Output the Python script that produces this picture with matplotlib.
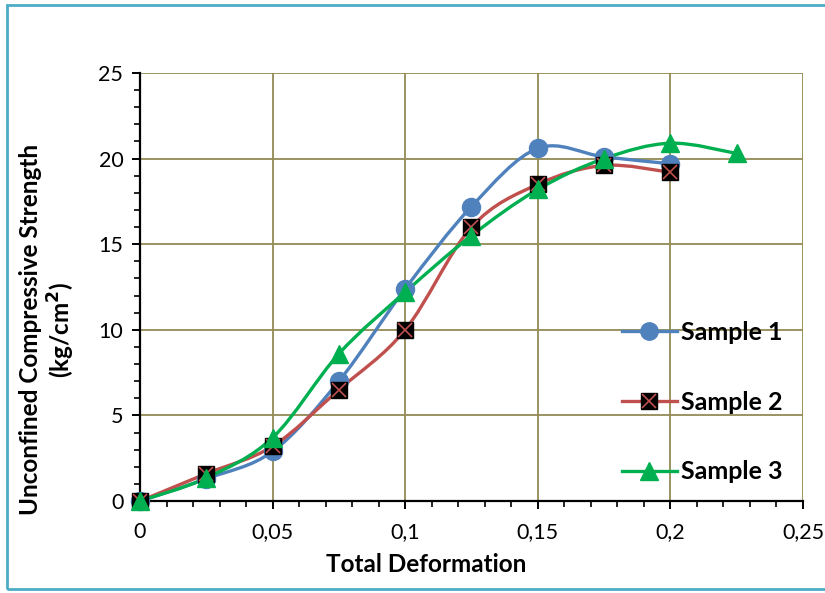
import numpy as np
import matplotlib
matplotlib.use("Agg")
import matplotlib.pyplot as plt
from matplotlib.path import Path
from matplotlib.patches import PathPatch, Rectangle
from matplotlib.lines import Line2D
from matplotlib.ticker import MultipleLocator, FixedLocator, FixedFormatter

plt.rcParams['font.family'] = ['Lato', 'DejaVu Sans']

# data
deform = [0, 0.025, 0.05, 0.075, 0.1, 0.125, 0.15, 0.175, 0.2]
deform3 = [0, 0.025, 0.05, 0.075, 0.1, 0.125, 0.15, 0.175, 0.2, 0.225]
sample1 = [0, 1.3, 2.9, 7.0, 12.4, 17.2, 20.6, 20.1, 19.7]
sample2 = [0, 1.6, 3.2, 6.5, 10.0, 16.0, 18.5, 19.6, 19.2]
sample3 = [0, 1.35, 3.7, 8.6, 12.2, 15.5, 18.2, 20.0, 20.9, 20.3]

xticks = [0, 0.05, 0.1, 0.15, 0.2, 0.25]
xticklabels = ['0', '0,05', '0,1', '0,15', '0,2', '0,25']
yticks = [0, 5, 10, 15, 20, 25]

blue = '#4F81BD'
red = '#C0504D'
green = '#00B050'
grid_col = '#948A54'


def smooth_path(xs, ys):
    # Excel style smoothed line: cubic Bezier through the points
    pts = np.column_stack([xs, ys]).astype(float)
    n = len(pts)
    verts = [pts[0]]
    codes = [Path.MOVETO]
    for i in range(n - 1):
        p0 = pts[i - 1] if i > 0 else pts[i]
        p1 = pts[i]
        p2 = pts[i + 1]
        p3 = pts[i + 2] if i + 2 < n else pts[i + 1]
        c1 = p1 + (p2 - p0) / 6.0
        c2 = p2 - (p3 - p1) / 6.0
        verts += [c1, c2, p2]
        codes += [Path.CURVE4] * 3
    return Path(verts, codes)


fig = plt.figure(figsize=(8.25, 5.93), dpi=100)
ax = fig.add_axes([0.1697, 0.1551, 0.8036, 0.7218])

# chart border (right side runs off the picture)
fig.patches.append(Rectangle((0.009, 0.006), 1.05, 0.985, transform=fig.transFigure,
                             fill=False, edgecolor='#4BACC6', linewidth=2.0))

lw = 2.4
ax.add_patch(PathPatch(smooth_path(deform, sample1), fill=False, edgecolor=blue, lw=lw,
                       zorder=3, clip_on=False))
ax.add_patch(PathPatch(smooth_path(deform, sample2), fill=False, edgecolor=red, lw=lw,
                       zorder=3, clip_on=False))
ax.add_patch(PathPatch(smooth_path(deform3, sample3), fill=False, edgecolor=green, lw=lw,
                       zorder=3, clip_on=False))

ax.plot(deform, sample1, 'o', color=blue, ms=13, zorder=4, clip_on=False)
ax.plot(deform, sample2, 's', color='black', mec='black', ms=11, zorder=5, clip_on=False)
ax.plot(deform, sample2, 'x', color=red, ms=10, mew=1.2, zorder=6, clip_on=False)
ax.plot(deform3, sample3, '^', color=green, ms=13, zorder=7, clip_on=False)

ax.set_xlim(0, 0.25)
ax.set_ylim(0, 25)
ax.xaxis.set_major_locator(FixedLocator(xticks))
ax.xaxis.set_major_formatter(FixedFormatter(xticklabels))
ax.xaxis.set_minor_locator(MultipleLocator(0.01))
ax.yaxis.set_major_locator(FixedLocator(yticks))
ax.yaxis.set_minor_locator(MultipleLocator(1))

ax.grid(True, which='major', color=grid_col, lw=1.3)
ax.set_axisbelow(True)
for s in ['top', 'right']:
    ax.spines[s].set_visible(False)
for s in ['left', 'bottom']:
    ax.spines[s].set_linewidth(1.6)
    ax.spines[s].set_zorder(2.5)
ax.tick_params(which='major', length=6, width=1.4, labelsize=15.5)
ax.tick_params(which='minor', length=4, width=1.2)
ax.tick_params(axis='x', which='major', pad=9)
ax.tick_params(axis='y', which='major', pad=6)

ax.set_xlabel('Total Deformation', fontsize=17.5, fontweight='bold')
ax.xaxis.set_label_coords(0.431, -0.122)
ax.set_ylabel('Unconfined Compressive Strength\n(kg/cm$^\\mathbf{2}$)', fontsize=17.5,
              fontweight='bold', linespacing=1.15)
ax.yaxis.set_label_coords(-0.095, 0.40)

handles = [
    Line2D([], [], color=blue, lw=lw, marker='o', ms=12.5),
    (Line2D([], [], color=red, lw=lw, marker='s', mfc='black', mec='black', ms=11),
     Line2D([], [], ls='none', marker='x', color=red, ms=10, mew=1.2)),
    Line2D([], [], color=green, lw=lw, marker='^', ms=13),
]
leg = ax.legend(handles, ['Sample 1', 'Sample 2', 'Sample 3'], loc='upper left',
                bbox_to_anchor=(0.727, 0.421), frameon=False, borderpad=0,
                borderaxespad=0, handlelength=2.2, handletextpad=0.15,
                labelspacing=1.87, prop={'weight': 'bold', 'size': 18})

fig.savefig('out.png', dpi=100)
